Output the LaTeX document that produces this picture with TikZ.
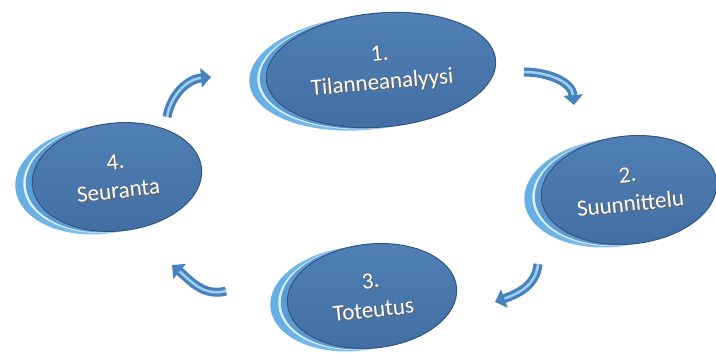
\documentclass[tikz,border=0pt]{standalone}
\usepackage{fontspec}
\setmainfont{Carlito}
\usepackage{tikz}
\usetikzlibrary{arrows.meta, positioning, shapes.geometric, shadows}

\definecolor{bodytop}{RGB}{80,128,182}
\definecolor{bodybot}{RGB}{66,110,162}
\definecolor{bodyedge}{RGB}{50,86,130}
\definecolor{bodyband}{RGB}{92,154,212}
\definecolor{rimleft}{RGB}{100,172,228}
\definecolor{rimright}{RGB}{170,216,245}
\definecolor{arrowblue}{RGB}{72,130,190}
\definecolor{arrowlight}{RGB}{160,208,240}

% white text with a soft dark shadow
\newcommand{\shtxt}[1]{\makebox[0pt][l]{\hspace{1.3pt}\raisebox{-1.3pt}{\color{black!60}#1}}#1}

\begin{document}
\begin{tikzpicture}[
  x=1pt, y=1pt,
  phasebox/.style={ellipse, draw=bodyedge, line width=1pt, top color=bodytop, bottom color=bodybot,
    minimum width=170pt, minimum height=108pt, inner sep=0pt, align=center,
    text=white, font=\fontsize{23}{29}\selectfont,
    general shadow={shadow xshift=-17pt, shadow yshift=-3pt, left color=rimleft, right color=rimright},
    general shadow={shadow xshift=-9pt, shadow yshift=-1.5pt, fill=white!85!cyan},
    general shadow={shadow xshift=-6.5pt, shadow yshift=-1pt, fill=bodyband}},
  cyc/.style={-{Triangle[length=10pt, width=19pt]}, line width=9pt, draw=arrowblue,
    postaction={draw=arrowlight, line width=2.5pt, shorten >=10pt, -}},
]
\useasboundingbox (0,0) rectangle (716,353);

% Phase ellipses
\node[phasebox, minimum width=230pt, minimum height=114pt, rotate=5] (n1) at (381,283) {\shtxt{1.}\\\shtxt{Tilanneanalyysi}};
\node[phasebox, minimum width=176pt, rotate=6] (n2) at (629,163) {\shtxt{2.}\\\shtxt{Suunnittelu}};
\node[phasebox, minimum height=104pt, rotate=6] (n3) at (372,57) {\shtxt{3.}\\\shtxt{Toteutus}};
\node[phasebox, rotate=6] (n4) at (117,176) {\shtxt{4.}\\\shtxt{Seuranta}};

% Arrow ends
\coordinate (a1s) at (167,236);
\coordinate (a1e) at (211,276);
\coordinate (a2s) at (524,281);
\coordinate (a2e) at (574,248);
\coordinate (a3s) at (538,89);
\coordinate (a3e) at (495,51);
\coordinate (a4s) at (226,62);
\coordinate (a4e) at (172,88);

% Cycle arrows
\draw[cyc] (a1s) to[out=80, in=185] (a1e);
\draw[cyc] (a2s) to[out=0, in=95] (a2e);
\draw[cyc] (a3s) to[out=-95, in=20] (a3e);
\draw[cyc] (a4s) to[out=195, in=-40] (a4e);

\end{tikzpicture}
\end{document}
